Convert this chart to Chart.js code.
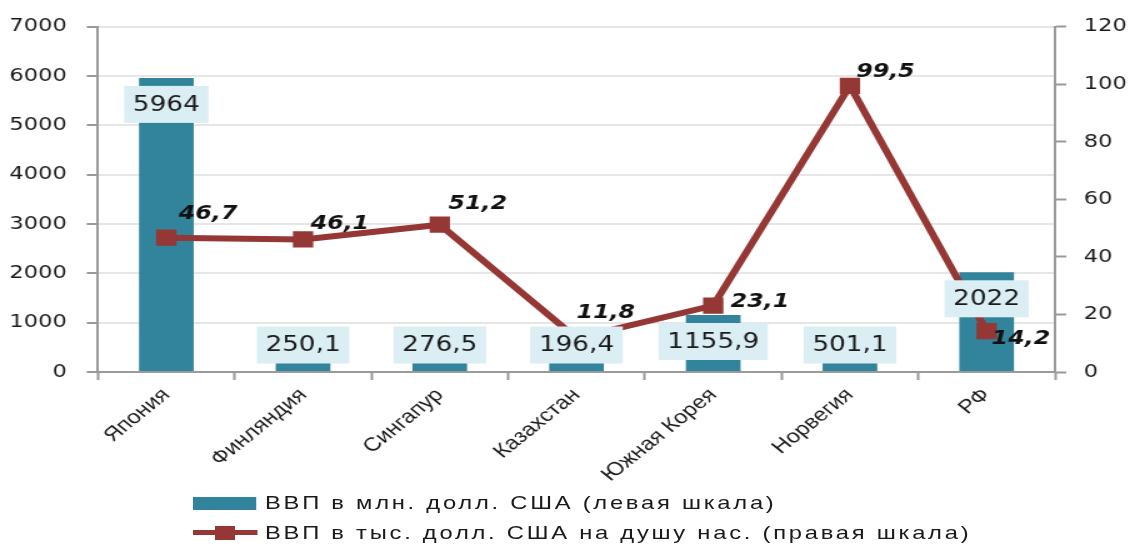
<!DOCTYPE html>
<html>
<head>
<meta charset="utf-8">
<script src="https://cdn.jsdelivr.net/npm/chart.js@4.4.1/dist/chart.umd.min.js"></script>
<style>
  html, body { margin: 0; padding: 0; background: #fff; overflow: hidden; }
  #wrap { position: absolute; left: 0; top: 0; width: 905px; height: 546px; transform: scaleX(1.25); transform-origin: 0 0; }
  #c { position: absolute; left: 0; top: 0; }
  .lg { position: absolute; font-family: "Liberation Sans", Arial, sans-serif; font-size: 19px; letter-spacing: 2.2px; color: #1a1a1a; white-space: nowrap; line-height: 22px; }
  .sw { position: absolute; }
</style>
</head>
<body>
<div id="wrap">
  <canvas id="c" width="905" height="546"></canvas>
  <div class="sw" style="left:154px; top:497px; width:51px; height:13px; background:#31849b;"></div>
  <div class="lg" style="left:212px; top:492px;">ВВП в млн. долл. США (левая шкала)</div>
  <div class="sw" style="left:154px; top:530px; width:52px; height:5px; background:#953735;"></div>
  <div class="sw" style="left:172px; top:526px; width:16px; height:14px; background:#953735;"></div>
  <div class="lg" style="left:212px; top:522px;">ВВП в тыс. долл. США на душу нас. (правая шкала)</div>
</div>
<script>
const categories = ['Япония', 'Финляндия', 'Сингапур', 'Казахстан', 'Южная Корея', 'Норвегия', 'РФ'];
const gdpMln = [5964, 250.1, 276.5, 196.4, 1155.9, 501.1, 2022];
const gdpPerCapita = [46.7, 46.1, 51.2, 11.8, 23.1, 99.5, 14.2];
const leftAxisMax = 7000, leftAxisStep = 1000;
const rightAxisMax = 120, rightAxisStep = 20;
const seriesNames = ['ВВП в млн. долл. США (левая шкала)', 'ВВП в тыс. долл. США на душу нас. (правая шкала)'];

const BAR = '#31849b', LINE = '#953735', AXIS = '#9a9a9a', GRID = '#e6e6e6', TXT = '#1a1a1a';
const fmt = v => String(v).replace('.', ',');

// label offsets (style only) for the line labels
const lineLabelOffsets = [[10, -24], [6, -15], [7, -21], [0, -25], [14, -3], [5, -14], [4, 8]];

const labelsPlugin = {
  id: 'valueLabels',
  afterDatasetsDraw(chart) {
    const ctx = chart.ctx;
    const barMeta = chart.getDatasetMeta(0);
    ctx.save();
    ctx.font = '21px "DejaVu Sans"';
    ctx.textAlign = 'center';
    ctx.textBaseline = 'middle';
    barMeta.data.forEach((el, i) => {
      const txt = fmt(gdpMln[i]);
      const tw = ctx.measureText(txt).width;
      const w = tw + 14, h = 37;
      const cy = Math.min(el.y + 26.5, el.base - 26);
      ctx.fillStyle = '#dbeef4';
      ctx.fillRect(el.x - w / 2, cy - h / 2, w, h);
      ctx.fillStyle = TXT;
      ctx.fillText(txt, el.x, cy + 1);
    });
    const lineMeta = chart.getDatasetMeta(1);
    ctx.font = 'italic bold 19px "DejaVu Sans"';
    ctx.textAlign = 'left';
    ctx.fillStyle = '#111';
    lineMeta.data.forEach((el, i) => {
      const o = lineLabelOffsets[i];
      ctx.fillText(fmt(gdpPerCapita[i]), el.x + o[0], el.y + o[1]);
    });
    ctx.restore();
  }
};

new Chart(document.getElementById('c'), {
  type: 'bar',
  data: {
    labels: categories,
    datasets: [
      {
        type: 'bar', label: seriesNames[0], data: gdpMln, yAxisID: 'y',
        backgroundColor: BAR, barPercentage: 0.4, categoryPercentage: 1, order: 2
      },
      {
        type: 'line', label: seriesNames[1], data: gdpPerCapita, yAxisID: 'y1',
        borderColor: LINE, borderWidth: 6, backgroundColor: LINE,
        pointStyle: 'rect', pointRadius: 11.5, pointHoverRadius: 11.5,
        pointBackgroundColor: LINE, pointBorderColor: LINE, pointBorderWidth: 0,
        tension: 0, order: 1
      }
    ]
  },
  options: {
    responsive: false,
    animation: false,
    layout: { padding: { top: 25, left: 0, right: 0, bottom: 0 } },
    plugins: { legend: { display: false }, tooltip: { enabled: false } },
    scales: {
      x: {
        grid: { offset: true, drawOnChartArea: false, drawTicks: true, tickLength: 8, tickColor: AXIS, tickWidth: 2 },
        border: { color: AXIS, width: 2 },
        ticks: { color: TXT, font: { family: '"Liberation Sans"', size: 19 }, minRotation: 45, maxRotation: 45, padding: 4 },
        afterFit(s) { s.height = 174; }
      },
      y: {
        position: 'left', min: 0, max: leftAxisMax,
        grid: { color: GRID, lineWidth: 2, tickColor: AXIS, tickLength: 9, tickWidth: 2 },
        border: { color: AXIS, width: 2 },
        ticks: { stepSize: leftAxisStep, color: TXT, font: { family: '"DejaVu Sans"', size: 18 }, padding: 16, callback: v => String(v) },
        afterFit(s) { s.width = 78.4; }
      },
      y1: {
        position: 'right', min: 0, max: rightAxisMax,
        grid: { drawOnChartArea: false, tickColor: AXIS, tickLength: 9, tickWidth: 2 },
        border: { color: AXIS, width: 2 },
        ticks: { stepSize: rightAxisStep, color: TXT, font: { family: '"DejaVu Sans"', size: 18 }, padding: 14, callback: v => String(v) },
        afterFit(s) { s.width = 61; }
      }
    }
  },
  plugins: [labelsPlugin]
});
</script>
</body>
</html>
